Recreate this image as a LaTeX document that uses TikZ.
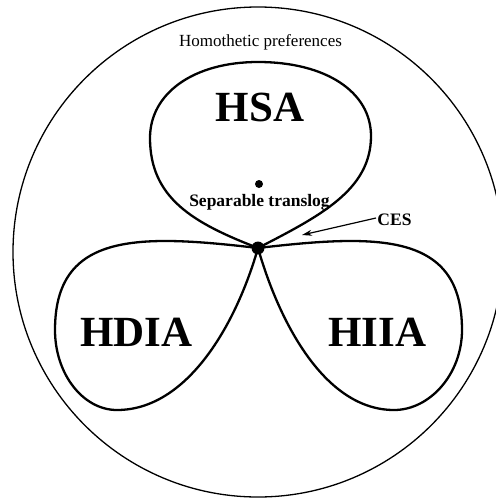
\documentclass[tikz,border=0pt]{standalone}
\usepackage{fontspec}
\setmainfont{Liberation Serif}
\usetikzlibrary{arrows.meta}
\begin{document}
\begin{tikzpicture}[x=1pt,y=-1pt,
  outer/.style={line width=1.3pt},
  loopline/.style={line width=2.3pt, line join=round},
  big/.style={font=\fontsize{43}{43}\selectfont\bfseries, anchor=base, inner sep=0pt},
  small/.style={font=\fontsize{17.5}{17.5}\selectfont\bfseries, anchor=base, inner sep=0pt},
  plain/.style={font=\fontsize{17}{17}\selectfont, anchor=base, inner sep=0pt},
  blob/.style={circle, fill=black, inner sep=0pt}
]
\useasboundingbox (0,0) rectangle (496,499);
\fill[white] (0,0) rectangle (496,499);
% outer circle
\draw[outer] (258,252) circle[radius=245];
% hub
\coordinate (hub) at (258,248);
% HSA loop
\draw[loopline] (hub) .. controls (193,223) and (150,198) .. (150,138)
  .. controls (150,93) and (194,62) .. (258,62)
  .. controls (326,62) and (371,92) .. (371,136)
  .. controls (371,190) and (320,216) .. (hub);
% HDIA loop
\draw[loopline] (hub) .. controls (138,234) and (55,232) .. (55,330)
  .. controls (55,374) and (83,410) .. (117,410)
  .. controls (187,410) and (236,325) .. (hub);
% HIIA loop
\draw[loopline] (hub) .. controls (378,234) and (462,232) .. (462,330)
  .. controls (462,374) and (430,410) .. (394,410)
  .. controls (326,410) and (280,325) .. (hub);
\node[blob, minimum size=13pt] (hubdot) at (hub) {};
\node[blob, minimum size=8pt] (sdot) at (259,184) {};
% texts
\node[plain] (homo) at (260.5,46.7) {Homothetic preferences};
\node[big] (hsa) at (260,121.7) {HSA};
\node[big] (hdia) at (136.5,346.7) {HDIA};
\node[big] (hiia) at (377.5,346.7) {HIIA};
\node[small] (sep) at (259.5,206.7) {Separable translog};
\node[small] (ces) at (394.5,225) {CES};
\coordinate (cestip) at (302,235);
\draw[line width=1.2pt, -{Stealth[length=10pt,width=6pt]}] (376,218) -- (cestip);
\end{tikzpicture}
\end{document}
